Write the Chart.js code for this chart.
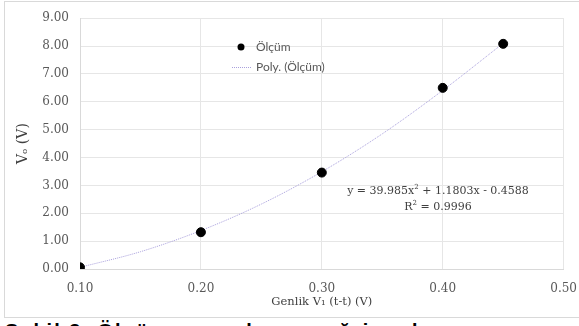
<!DOCTYPE html>
<html>
<head>
<meta charset="utf-8">
<script src="https://cdn.jsdelivr.net/npm/chart.js@4"></script>
<style>
  html, body { margin: 0; padding: 0; background: #fff; }
  #wrap { position: relative; width: 579px; height: 326px; overflow: hidden; background: #fff; }
  #frame { position: absolute; left: 4px; top: 1px; width: 590px; height: 317px; border: 1px solid #d9d9d9; box-sizing: border-box; }
  #cv { position: absolute; left: 0; top: 0; }
  .eq { position: absolute; font-family: "DejaVu Serif", serif; font-size: 11px; color: #404040; white-space: nowrap; transform: translateX(-50%); }
  #caption { position: absolute; left: 5px; top: 320px; font-family: "Liberation Sans", sans-serif; font-weight: bold; font-size: 20px; letter-spacing: 2px; color: #000; white-space: nowrap; }
</style>
</head>
<body>
<div id="wrap">
  <div id="frame"></div>
  <canvas id="cv" width="590" height="318"></canvas>
  <div class="eq" style="left:438px; top:183px;">y = 39.985x<sup style="font-size:7px">2</sup> + 1.1803x - 0.4588</div>
  <div class="eq" style="left:438px; top:199px;">R<sup style="font-size:7px">2</sup> = 0.9996</div>
  <div id="caption">Şekil 3. Ölçüm sonuçları ve eğri uydurma</div>
</div>
<script>
const genlik = [0.10, 0.20, 0.30, 0.40, 0.45];
const olcum = [0.06, 1.32, 3.46, 6.50, 8.08];
const trendX = [0.10, 0.15, 0.20, 0.25, 0.30, 0.35, 0.40, 0.45];
const trendY = [0.06, 0.62, 1.38, 2.33, 3.49, 4.85, 6.41, 8.10];
const yTicks = [0, 1, 2, 3, 4, 5, 6, 7, 8, 9];
const xTicks = [0.10, 0.20, 0.30, 0.40, 0.50];

const legendPlugin = {
  id: 'legendInside',
  afterDraw(chart) {
    const ctx = chart.ctx;
    ctx.save();
    ctx.fillStyle = '#000';
    ctx.beginPath();
    ctx.arc(241, 47, 3.5, 0, Math.PI * 2);
    ctx.fill();
    ctx.strokeStyle = '#a9a0dc';
    ctx.lineWidth = 1;
    ctx.setLineDash([1, 1]);
    ctx.beginPath();
    ctx.moveTo(232, 67.5);
    ctx.lineTo(252, 67.5);
    ctx.stroke();
    ctx.setLineDash([]);
    ctx.fillStyle = '#595959';
    ctx.font = '12px Lato, "Liberation Sans", sans-serif';
    ctx.textBaseline = 'middle';
    ctx.fillText('Ölçüm', 256, 47);
    ctx.fillText('Poly. (Ölçüm)', 256, 67);
    ctx.restore();
  }
};

new Chart(document.getElementById('cv'), {
  type: 'scatter',
  data: {
    datasets: [
      {
        label: 'Poly. (Ölçüm)',
        type: 'line',
        data: trendX.map((x, i) => ({ x: x, y: trendY[i] })),
        borderColor: '#a9a0dc',
        borderWidth: 1,
        borderDash: [1, 1],
        pointRadius: 0,
        fill: false,
        cubicInterpolationMode: 'monotone',
        order: 2
      },
      {
        label: 'Ölçüm',
        data: genlik.map((x, i) => ({ x: x, y: olcum[i] })),
        backgroundColor: '#000',
        borderColor: '#000',
        pointRadius: 4.5,
        order: 1
      }
    ]
  },
  options: {
    responsive: false,
    animation: false,
    devicePixelRatio: 1,
    layout: { autoPadding: false, padding: { left: 0, right: 15, top: 17, bottom: 0 } },
    plugins: { legend: { display: false }, tooltip: { enabled: false } },
    scales: {
      x: {
        type: 'linear',
        min: 0.1, max: 0.5,
        afterBuildTicks(axis) { axis.ticks = xTicks.map(v => ({ value: v })); },
        afterFit(axis) { axis.height = 49; },
        grid: { color: '#e6e6e6', drawTicks: false },
        border: { color: '#d9d9d9' },
        ticks: {
          padding: 13,
          color: '#595959',
          font: { family: '"DejaVu Serif", serif', size: 12 },
          callback: v => Number(v).toFixed(2)
        },
        title: {
          display: true,
          text: 'Genlik V₁ (t-t) (V)',
          color: '#404040',
          font: { family: '"DejaVu Serif", serif', size: 11.5 },
          padding: { top: 0, bottom: 9 }
        }
      },
      y: {
        min: 0, max: 9,
        afterBuildTicks(axis) { axis.ticks = yTicks.map(v => ({ value: v })); },
        afterFit(axis) { axis.width = 80; },
        grid: { color: '#e6e6e6', drawTicks: false },
        border: { color: '#d9d9d9' },
        ticks: {
          padding: 11,
          color: '#595959',
          font: { family: '"DejaVu Serif", serif', size: 12 },
          callback: v => Number(v).toFixed(2)
        },
        title: {
          display: true,
          text: 'Vₒ (V)',
          color: '#404040',
          font: { family: '"DejaVu Serif", serif', size: 14 },
          padding: { top: 15, bottom: 0 }
        }
      }
    }
  },
  plugins: [legendPlugin]
});
</script>
</body>
</html>
